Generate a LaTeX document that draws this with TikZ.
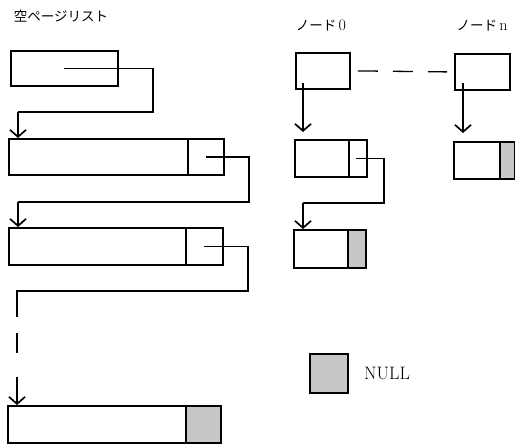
\documentclass[tikz,border=0pt]{standalone}
\usepackage{fontspec}
\newfontfamily\jpfont{Noto Sans CJK JP}
\usetikzlibrary{arrows.meta}
\begin{document}
\begin{tikzpicture}[x=1pt,y=-1pt,
  cell/.style={draw,line width=1.8pt,inner sep=0pt,anchor=north west},
  nullcell/.style={cell,fill=black!22},
  link/.style={line width=1.3pt},
  arr/.style={link,-{Straight Barb[length=7pt,width=16pt,line width=1.7pt]}},
  lbl/.style={inner sep=0pt,font=\fontsize{13.5}{14}\selectfont}
]
\useasboundingbox (0,0) rectangle (515,444);
% titles
\node[lbl] (t1) at (61,16) {\jpfont 空ページリスト};
\node[lbl] (t2) at (321,26) {\jpfont ノード\,{\rmfamily\fontsize{16}{16}\selectfont 0}};
\node[lbl] (t3) at (482,26) {\jpfont ノード\,{\rmfamily\fontsize{16}{16}\selectfont n}};
% free page list
\node[cell,minimum width=107,minimum height=35] (A) at (10,50) {};
\node[cell,minimum width=179,minimum height=36] (B) at (8,138) {};
\node[cell,minimum width=36,minimum height=36] (Bp) at (187,138) {};
\node[cell,minimum width=177,minimum height=37] (C) at (8,227) {};
\node[cell,minimum width=37,minimum height=37] (Cp) at (185,227) {};
\node[cell,minimum width=178,minimum height=37] (D) at (7,405) {};
\node[nullcell,minimum width=35,minimum height=37] (Dp) at (185,405) {};
% nodes
\node[cell,minimum width=54,minimum height=36] (N0) at (295,52) {};
\node[cell,minimum width=55,minimum height=36] (Nn) at (454,53) {};
\node[cell,minimum width=54,minimum height=37] (E) at (294,139) {};
\node[cell,minimum width=18,minimum height=37] (Ep) at (348,139) {};
\node[cell,minimum width=54,minimum height=38] (F) at (293,229) {};
\node[nullcell,minimum width=18,minimum height=38] (Fp) at (347,229) {};
\node[cell,minimum width=46,minimum height=37] (G) at (453,141) {};
\node[nullcell,minimum width=15,minimum height=37] (Gp) at (499,141) {};
% legend
\node[nullcell,minimum width=38,minimum height=39] (L) at (309,353) {};
\node[inner sep=0pt,font=\fontsize{18}{18}\selectfont,anchor=west] (Lt) at (364,373) {NULL};
% coordinates
\coordinate (a1) at (153,112);
\coordinate (a2) at (18,112);
\coordinate (b1) at (249,202);
\coordinate (b2) at (18,202);
\coordinate (c1) at (248,291);
\coordinate (c2) at (17,291);
\coordinate (c3) at (17,317);
\coordinate (c4) at (17,333);
\coordinate (c5) at (17,353);
\coordinate (c6) at (17,377);
\coordinate (e1) at (384,203);
\coordinate (e2) at (303,203);
% connectors
\draw[link] (A.center) -| (a1) -- (a2);
\draw[arr] (a2) -- (a2 |- B.north);
\draw[link] (Bp.center) -| (b1) -- (b2);
\draw[arr] (b2) -- (b2 |- C.north);
\draw[link] (Cp.center) -| (c1) -- (c2) -- (c3);
\draw[link] (c4) -- (c5);
\draw[arr] (c6) -- (c6 |- D.north);
\draw[link,dash pattern=on 20pt off 15pt] ([xshift=7]N0.east) -- ([xshift=-7]Nn.west);
\draw[arr] ([xshift=8,yshift=7]N0.south west) -- ([xshift=8,yshift=7]N0.south west |- E.north);
\draw[arr] ([xshift=9,yshift=8]Nn.south west) -- ([xshift=9,yshift=8]Nn.south west |- G.north);
\draw[link] ([xshift=-2]Ep.center) -| (e1) -- (e2);
\draw[arr] (e2) -- (e2 |- F.north);
\end{tikzpicture}
\end{document}
